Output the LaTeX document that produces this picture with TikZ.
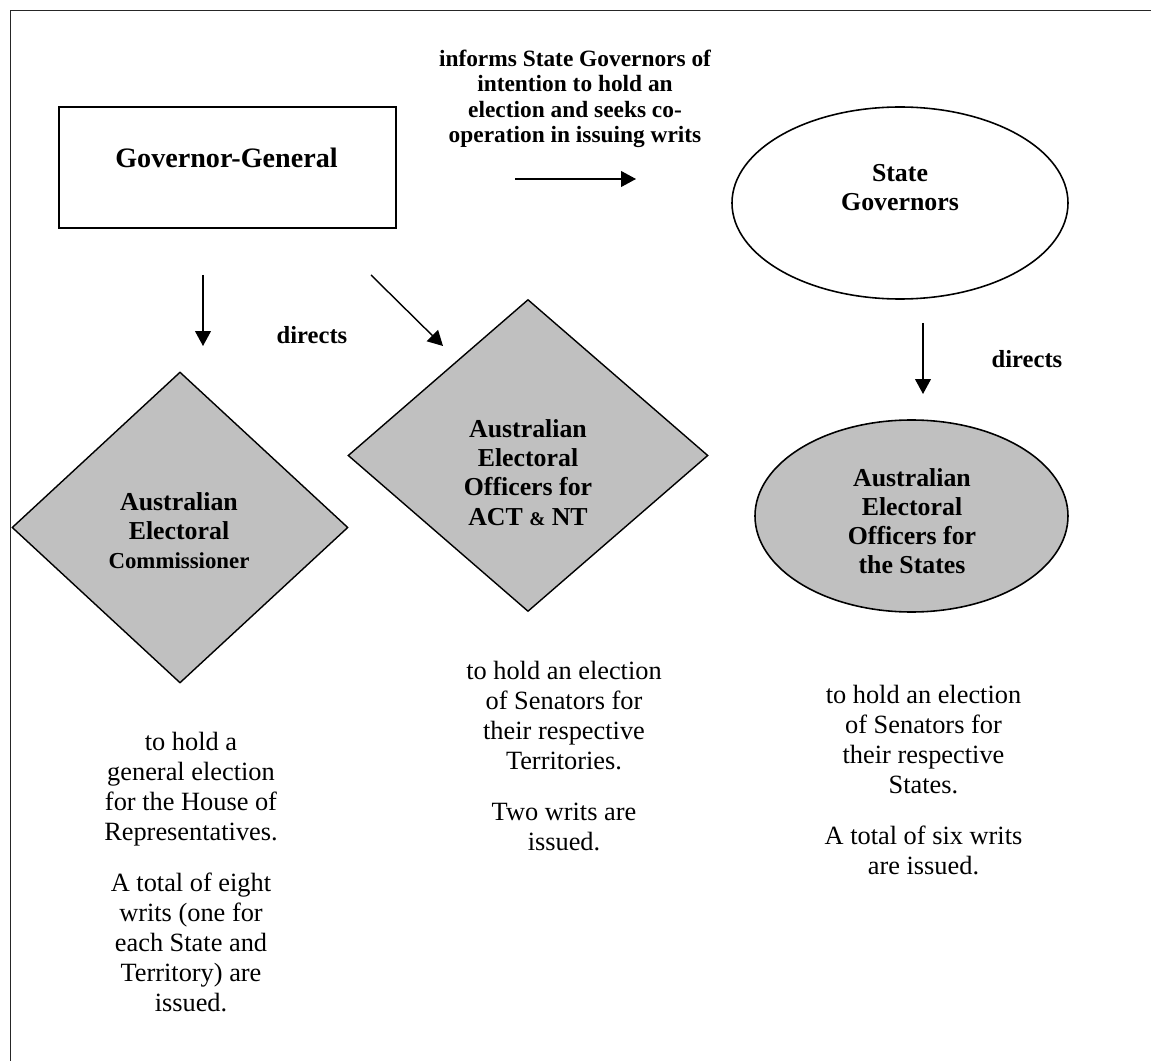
\documentclass[tikz,border=0pt]{standalone}
\usepackage{fontspec}
\setmainfont{Liberation Serif}
\usepackage{tikz}
\usetikzlibrary{
  arrows.meta,
  positioning,
  shapes.geometric
}
\definecolor{shade}{HTML}{C0C0C0}

\begin{document}
\begin{tikzpicture}[
    box/.style={draw, line width=0.9pt, inner sep=0pt},
    oval/.style={draw, ellipse, line width=0.9pt, inner sep=0pt},
    dia/.style={draw, diamond, fill=shade, line width=0.8pt, inner sep=0pt},
    intxt/.style={align=center, inner sep=0pt, font=\bfseries\fontsize{14.7}{16.6}\selectfont},
    lbl/.style={font=\bfseries\fontsize{14}{16}\selectfont, inner sep=0pt},
    hdr/.style={font=\bfseries\fontsize{13.3}{14.5}\selectfont, align=center, inner sep=0pt},
    note/.style={font=\fontsize{15}{17.1}\selectfont, align=center, inner sep=0pt},
    arr/.style={-{Triangle[length=8.5pt, width=9pt]}, line width=0.8pt}
  ]
    \useasboundingbox (0,0) rectangle (23.02,-21.22);
    \draw[line width=0.5pt, black!85] (0.2,-21.22) -- (0.2,-0.2) -- (23.02,-0.2);

    \node[box, minimum width=6.74cm, minimum height=2.42cm] (gg) at (4.555,-3.35) {};
    \node[intxt, font=\bfseries\fontsize{16}{19}\selectfont] (ggx) at (4.53,-3.15) {Governor-General};
    \node[oval, minimum width=6.72cm, minimum height=3.84cm] (sg) at (18,-4.06) {};
    \node[intxt] (sgx) at (18,-3.75) {State\\Governors};
    \node[hdr] (inf) at (11.5,-1.98)
      {informs State Governors of\\ intention to hold an\\ election and seeks co-\\ operation in issuing writs};

    \coordinate (h1) at (10.3,-3.58);  \coordinate (h2) at (12.72,-3.58);
    \draw[arr] (h1) -- (h2);

    % directs, left side
    \coordinate (d1) at (4.06,-5.5);  \coordinate (d2) at (4.06,-6.92);
    \coordinate (d3) at (7.42,-5.5);  \coordinate (d4) at (8.86,-6.92);
    \draw[arr] (d1) -- (d2); \draw[arr] (d3) -- (d4);
    \node[lbl] (dl) at (6.24,-6.7) {directs};

    \node[dia, minimum width=6.72cm, minimum height=6.22cm] (aec) at (3.6,-10.55) {};
    \node[intxt] (aecx) at (3.58,-10.61)
      {Australian\\ Electoral\\ {\fontsize{13}{16.6}\selectfont Commissioner}};
    \node[dia, minimum width=7.2cm, minimum height=6.24cm] (aeot) at (10.56,-9.11) {};
    \node[intxt] (aeotx) at (10.56,-9.45)
      {Australian\\ Electoral\\ Officers for\\ ACT {\fontsize{11}{16.6}\selectfont\&} NT};

    % directs, right side
    \coordinate (d5) at (18.46,-6.46);  \coordinate (d6) at (18.46,-7.88);
    \draw[arr] (d5) -- (d6);
    \node[lbl] (dr) at (20.54,-7.18) {directs};

    \node[oval, fill=shade, minimum width=6.26cm, minimum height=3.84cm] (aeos) at (18.23,-10.32) {};
    \node[intxt] (aeosx) at (18.24,-10.42)
      {Australian\\ Electoral\\ Officers for\\ the States};

    \node[note] (n1) at (3.82,-17.44)
      {to hold a\\ general election\\ for the House of\\ Representatives.\\[12pt]
       A total of eight\\ writs (one for\\ each State and\\ Territory) are\\ issued.};
    \node[note] (n2) at (11.28,-15.12)
      {to hold an election\\ of Senators for\\ their respective\\ Territories.\\[12pt]
       Two writs are\\ issued.};
    \node[note] (n3) at (18.47,-15.6)
      {to hold an election\\ of Senators for\\ their respective\\ States.\\[12pt]
       A total of six writs\\ are issued.};
  \end{tikzpicture}
\end{document}
